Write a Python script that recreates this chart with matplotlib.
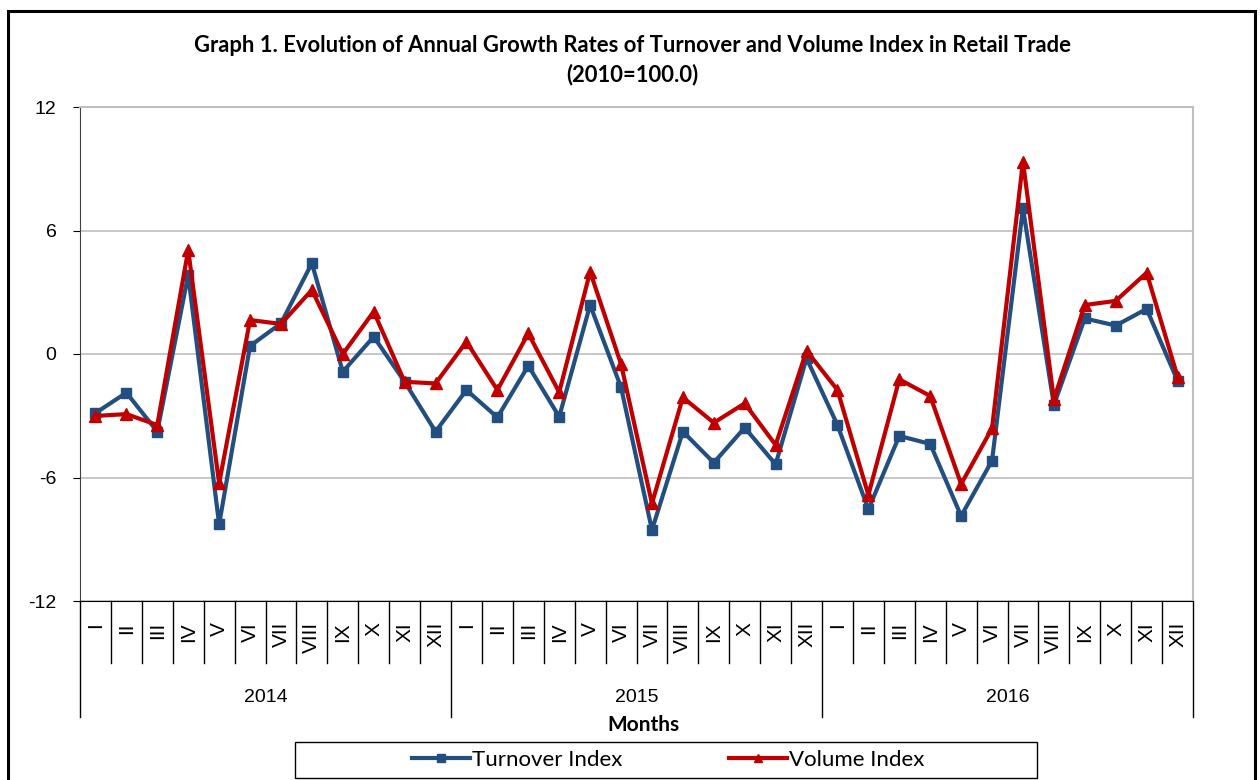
import matplotlib.pyplot as plt
import matplotlib.transforms as mtransforms
from matplotlib.patches import Rectangle
from matplotlib.lines import Line2D

plt.rcParams['axes.unicode_minus'] = False

months = ['I', 'II', 'III', 'IV', 'V', 'VI', 'VII', 'VIII', 'IX', 'X', 'XI', 'XII']
years = ['2014', '2015', '2016']

turnover = [-2.87, -1.88, -3.77, 3.84, -8.28, 0.39, 1.49, 4.41, -0.86, 0.84, -1.35, -3.77,
            -1.75, -3.08, -0.57, -3.05, 2.38, -1.62, -8.55, -3.77, -5.28, -3.58, -5.36, -0.21,
            -3.45, -7.55, -3.98, -4.37, -7.87, -5.18, 7.08, -2.48, 1.73, 1.38, 2.19, -1.30]
volume = [-3.01, -2.92, -3.45, 5.05, -6.28, 1.65, 1.46, 3.11, 0.00, 2.06, -1.35, -1.43,
          0.60, -1.75, 1.00, -1.86, 4.00, -0.49, -7.26, -2.11, -3.34, -2.40, -4.42, 0.16,
          -1.75, -6.85, -1.23, -2.04, -6.32, -3.61, 9.35, -2.20, 2.38, 2.58, 3.95, -1.10]

blue = '#234E80'
red = '#C00000'
W, H = 1260, 780
arial = 'Liberation Sans'

fig = plt.figure(figsize=(12.6, 7.8), dpi=100)
fig.patches.append(Rectangle((8 / W, -0.05), (1255 - 8) / W, 1.05 - 11 / H,
                             transform=fig.transFigure, fill=False,
                             edgecolor='black', linewidth=2.2, clip_on=False))

ax = fig.add_axes([80 / W, 1 - 601 / H, (1193 - 80) / W, (601 - 107) / H])
x = list(range(len(turnover)))
ax.plot(x, turnover, color=blue, lw=3, marker='s', ms=6.5, label='Turnover Index', zorder=3)
ax.plot(x, volume, color=red, lw=3, marker='^', ms=8, label='Volume Index', zorder=4)

ax.set_xlim(-0.5, len(x) - 0.5)
ax.set_ylim(-12, 12)
ax.set_yticks([-12, -6, 0, 6, 12])
ax.tick_params(axis='y', length=5, pad=12, labelsize=14, direction='out')
for t in ax.get_yticklabels():
    t.set_fontfamily(arial)
ax.set_xticks([])
ax.grid(axis='y', color='#BFBFBF', lw=1.2)
ax.set_axisbelow(True)
ax.spines['top'].set_color('#BFBFBF')
ax.spines['right'].set_color('#BFBFBF')
ax.spines['top'].set_linewidth(1.5)
ax.spines['right'].set_linewidth(1.5)
ax.spines['left'].set_color('#404040')
ax.spines['bottom'].set_color('black')

# category axis: months and years
trans = mtransforms.blended_transform_factory(ax.transData, ax.transAxes)
hpx = 601 - 107
for i in range(len(x) + 1):
    depth = 717 if i % 12 == 0 else 663
    ax.add_line(Line2D([i - 0.5, i - 0.5], [0, -(depth - 601) / hpx], transform=trans,
                       color='black', lw=1, clip_on=False))
for i in x:
    ax.text(i, -(622 - 601) / hpx, months[i % 12], transform=trans, rotation=90,
            ha='center', va='top', fontsize=15, family=arial)
for j, yr in enumerate(years):
    ax.text(j * 12 + 5.5, -(698 - 601) / hpx, yr, transform=trans, ha='center',
            va='center', fontsize=14, family=arial)

fig.text(643 / W, 1 - 725 / H, 'Months', ha='center', va='center', fontsize=15,
         fontweight='bold', family='Lato')
fig.text(632 / W, 1 - 45 / H, 'Graph 1. Evolution of Annual Growth Rates of Turnover and Volume Index in Retail Trade',
         ha='center', va='center', fontsize=15.8, fontweight='bold', family='Lato')
fig.text(632 / W, 1 - 75 / H, '(2010=100.0)', ha='center', va='center', fontsize=15.8,
         fontweight='bold', family='Lato')

fig.patches.append(Rectangle((295 / W, 1 - 778 / H), (1037 - 295) / W, (778 - 742) / H,
                             transform=fig.transFigure, fill=False, edgecolor='black', lw=1))
fig.legend(loc='center', bbox_to_anchor=(668 / W, 1 - 760 / H), ncol=2, frameon=False,
           prop={'family': 'Lato', 'size': 16}, handlelength=2.6, handletextpad=0.1,
           columnspacing=4.8, markerscale=0.8)

plt.savefig('out.png', dpi=100)
